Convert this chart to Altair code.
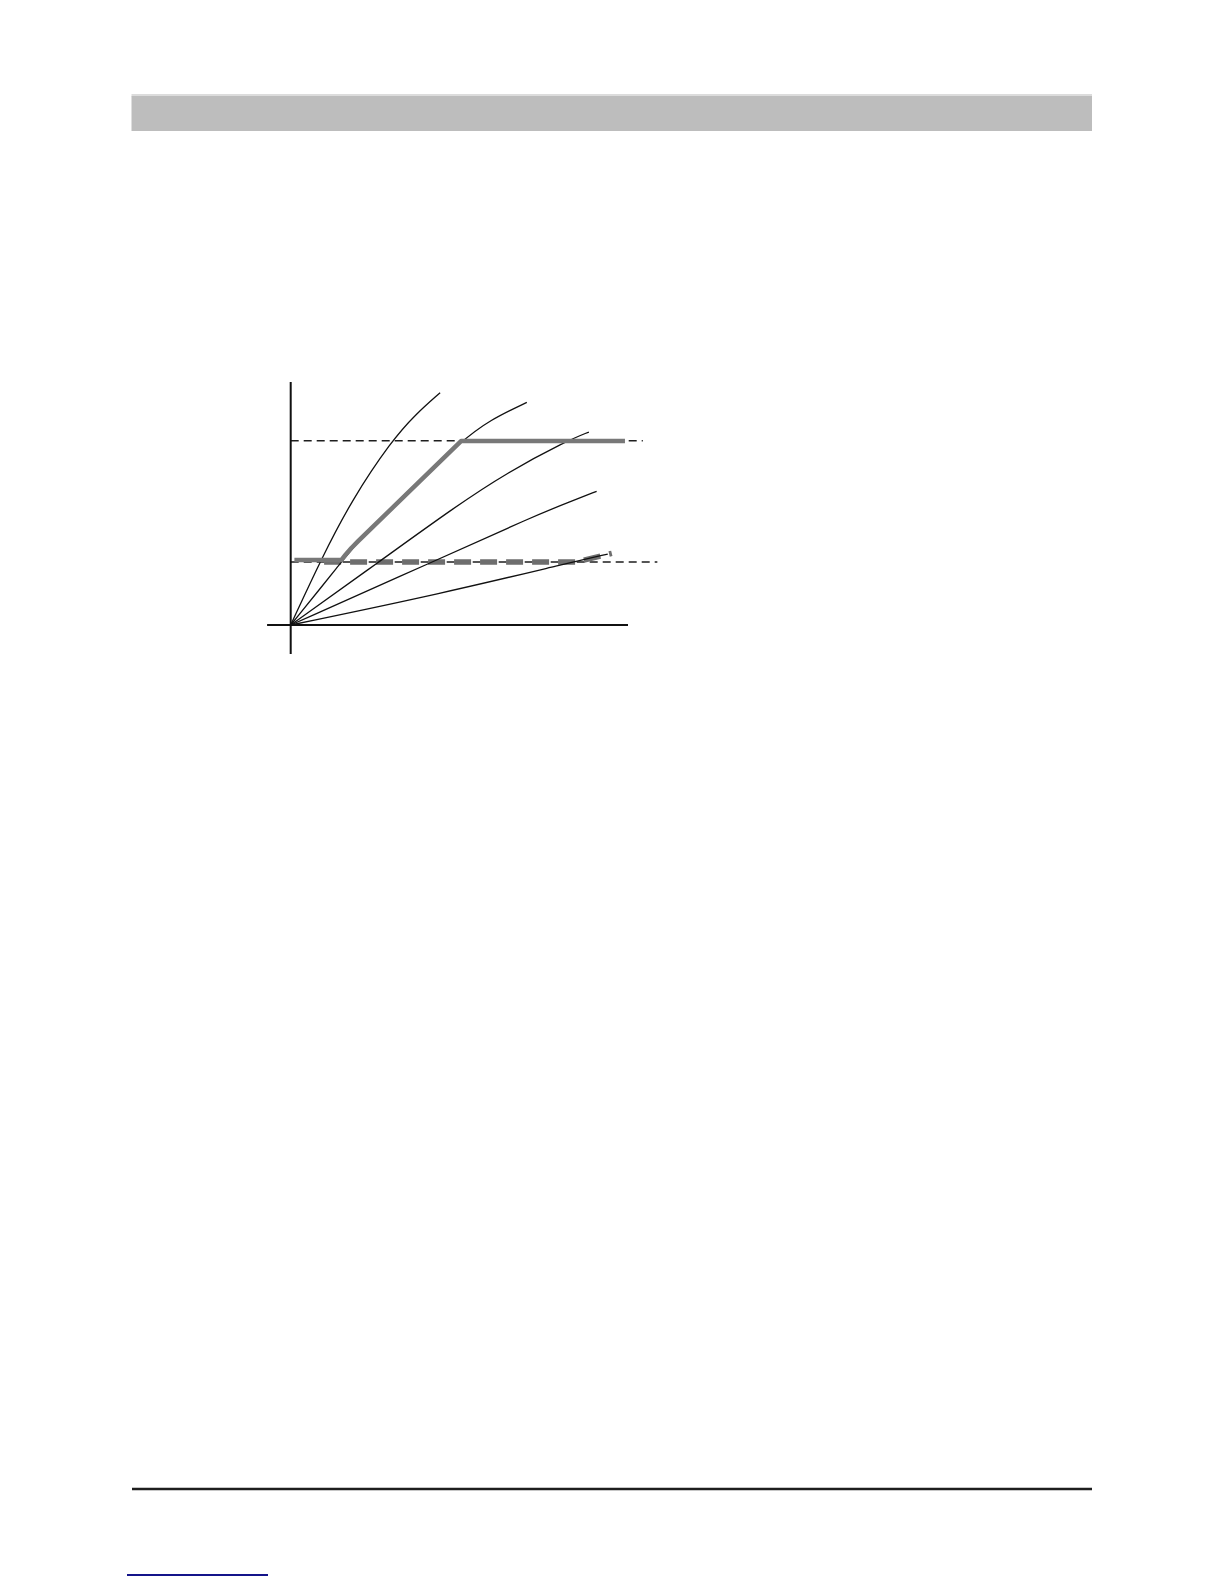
import altair as alt
import pandas as pd

# ---- chart data (data units: both axes run 0..10) ----
c1_x = [0, 0.92, 1.81, 2.99, 3.71, 4.43]
c1_y = [0, 2.76, 5.14, 7.58, 8.68, 9.56]
c2_x = [0, 1.53, 2.00, 3.19, 5.05, 5.91, 7.00]
c2_y = [0, 2.63, 3.45, 5.14, 7.57, 8.44, 9.16]
c3_x = [0, 2.62, 4.87, 6.40, 8.19, 8.84]
c3_y = [0, 2.60, 4.86, 6.26, 7.58, 7.94]
c4_x = [0, 4.18, 7.24, 8.33, 9.07]
c4_y = [0, 2.58, 4.50, 5.10, 5.50]
c5_x = [0, 4.43, 8.33, 9.40]
c5_y = [0, 1.28, 2.58, 2.92]

# thick grey envelope (solid) and thick grey dashed path
g_x = [0.11, 1.50, 1.62, 1.80, 2.00, 5.05, 9.91]
g_y = [2.67, 2.67, 2.88, 3.17, 3.45, 7.57, 7.57]
gd_x = [0.99, 8.45, 9.52]
gd_y = [2.59, 2.59, 2.95]

# horizontal dashed reference levels
level_y = [7.58, 2.59]
level_end = [10.44, 10.87]

# axis line extents
x_axis_ext = [-0.70, 10.0]
y_axis_ext = [-1.19, 10.0]

# ---- page geometry (pixels inside the 8px margin) ----
W, H = 1208, 1568
ORIG_X, ORIG_Y = 290.7 - 8, 625 - 8
PX_X, PX_Y = 33.73, 24.3
xs = alt.Scale(domain=[-ORIG_X / PX_X, (W - ORIG_X) / PX_X], nice=False, zero=False)
ys = alt.Scale(domain=[-(H - ORIG_Y) / PX_Y, ORIG_Y / PX_Y], nice=False, zero=False)


def curve_df(name, xv, yv):
    return pd.DataFrame({"curve": name, "x": xv, "y": yv, "i": range(len(xv))})


thin = pd.concat([
    curve_df("c1", c1_x, c1_y),
    curve_df("c2", c2_x, c2_y),
    curve_df("c3", c3_x, c3_y),
    curve_df("c4", c4_x, c4_y),
    curve_df("c5", c5_x, c5_y),
])
grey = curve_df("g", g_x, g_y)
greyd = curve_df("gd", gd_x, gd_y)
levels = pd.DataFrame({"y": level_y, "x": [0, 0], "x2": level_end})
xaxis = pd.DataFrame({"x": [x_axis_ext[0]], "x2": [x_axis_ext[1]], "y": [0]})
yaxis = pd.DataFrame({"y": [y_axis_ext[0]], "y2": [y_axis_ext[1]], "x": [0]})
one = pd.DataFrame({"a": [0]})

X = lambda f="x": alt.X(f"{f}:Q", scale=xs, axis=None)
Y = lambda f="y": alt.Y(f"{f}:Q", scale=ys, axis=None)

# page decorations
header = alt.Chart(one).mark_rect(color="#bdbdbd").encode(
    x=alt.value(123.5), x2=alt.value(1084), y=alt.value(88), y2=alt.value(123))
header_top = alt.Chart(one).mark_rect(color="#dcdcdc").encode(
    x=alt.value(123.5), x2=alt.value(1084), y=alt.value(86), y2=alt.value(88.5))
footer = alt.Chart(one).mark_rule(color="#1e1e1e", strokeWidth=2.5).encode(
    x=alt.value(124), x2=alt.value(1084), y=alt.value(1481))
link = alt.Chart(one).mark_rule(color="#14148a", strokeWidth=2).encode(
    x=alt.value(119), x2=alt.value(260), y=alt.value(1567))

level_layer = alt.Chart(levels).mark_rule(
    color="#1e1e1e", strokeWidth=1.6, strokeDash=[8, 5]).encode(
    x=X(), x2="x2:Q", y=Y())

thick_dashed = alt.Chart(greyd).mark_line(
    color="#6e6e6e", strokeWidth=5.5, strokeDash=[17, 9]).encode(
    x=X(), y=Y(), order="i:Q")

thin_layer = alt.Chart(thin).mark_line(
    color="#111111", strokeWidth=1.3, interpolate="basis").encode(
    x=X(), y=Y(), detail="curve:N", order="i:Q")

grey_layer = alt.Chart(grey).mark_line(
    color="#787878", strokeWidth=4.5, strokeJoin="round").encode(
    x=X(), y=Y(), order="i:Q")

xaxis_layer = alt.Chart(xaxis).mark_rule(color="#111111", strokeWidth=2).encode(
    x=X(), x2="x2:Q", y=Y())
yaxis_layer = alt.Chart(yaxis).mark_rule(color="#111111", strokeWidth=2).encode(
    y=Y(), y2="y2:Q", x=X())

chart = alt.layer(
    header_top, header, footer, link,
    level_layer, thick_dashed, thin_layer, grey_layer, xaxis_layer, yaxis_layer,
).properties(
    width=W, height=H, padding=0,
    autosize=alt.AutoSizeParams(type="none"),
).configure_view(strokeWidth=0)

chart.save("out.html", embed_options={"renderer": "svg", "actions": False})
